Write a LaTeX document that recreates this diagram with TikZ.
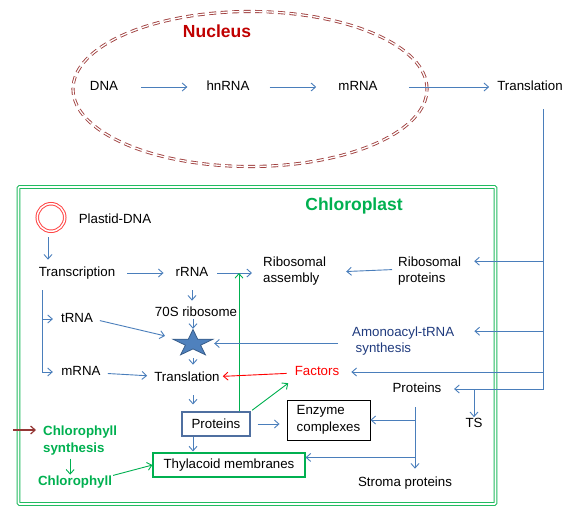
\documentclass[tikz,border=0pt]{standalone}
\usepackage{fontspec}
\setmainfont{Liberation Sans}
\usetikzlibrary{arrows.meta,shapes.geometric,calc}
\definecolor{lb}{HTML}{4A7EBB}
\definecolor{gr}{HTML}{00B050}
\definecolor{boxgr}{HTML}{22BB60}
\definecolor{nucred}{HTML}{C00000}
\definecolor{brn}{HTML}{A0403F}
\definecolor{navy}{HTML}{1F3A7D}
\definecolor{starfill}{HTML}{4F81BD}
\definecolor{starline}{HTML}{385D8A}
\definecolor{boxblue}{HTML}{4F6FA0}
\definecolor{brarrow}{HTML}{953735}
\definecolor{pred}{HTML}{FF4545}
\newcommand\fsz{\fontsize{13.3}{16.5}\selectfont}
\newcommand\fbig{\fontsize{17.5}{21}\selectfont\bfseries}
\tikzset{
 txt/.style={inner sep=0pt, text height=9.5pt, text depth=2.8pt, font=\fsz},
 mtxt/.style={inner sep=0pt, align=left, font=\fsz},
 tip/.style={-{Straight Barb[length=4.5pt,width=8pt]}},
 ln/.style={draw=lb, line width=0.9pt},
 arr/.style={ln, tip},
 garr/.style={draw=gr, line width=0.9pt, tip},
 rarr/.style={draw=red, line width=0.9pt, tip},
 brarr/.style={draw=brarrow, line width=1.2pt, tip},
}
\begin{document}
\begin{tikzpicture}[x=1pt,y=-1pt]
\useasboundingbox (0,0) rectangle (583,522);
% nucleus
\node[ellipse, draw=brn, line width=0.9pt, double=white, double distance=1.3pt, dash pattern=on 7pt off 4.5pt, minimum width=354pt, minimum height=155pt, inner sep=0pt] (nucleus) at (250,89) {};
\node[font=\fbig, text=nucred, inner sep=0pt] (nuctitle) at (217,31) {Nucleus};
\node[txt] (dna) at (104,87) {DNA};
\node[txt] (hnrna) at (228,87) {hnRNA};
\node[txt] (mrnaN) at (358,87) {mRNA};
\node[txt] (transN) at (530,87) {Translation};
% chloroplast
\node[draw=boxgr, line width=1.1pt, double=white, double distance=1.6pt, rounded corners=1pt, minimum width=477pt, minimum height=317pt, inner sep=0pt] (chlbox) at (257,345.5) {};
\node[font=\fbig, text=gr, inner sep=0pt] (chltitle) at (354,206) {Chloroplast};
\node[circle, draw=pred, line width=1pt, double=white, double distance=1.5pt, minimum size=27.5pt, inner sep=0pt] (pcirc) at (51,217.5) {};
\node[txt] (pdna) at (115,220) {Plastid-DNA};
\node[txt] (transc) at (77,273) {Transcription};
\node[txt] (rrna) at (192,273) {rRNA};
\node[mtxt, anchor=north west] (ribasm) at (263,256.2) {Ribosomal\\assembly};
\node[mtxt, anchor=north west] (ribprot) at (398,256.2) {Ribosomal\\proteins};
\node[txt] (s70) at (196,313) {70S ribosome};
\node[txt] (trna) at (77,319) {tRNA};
\node[mtxt, anchor=north west, text=navy] (amino) at (352,326.2) {Amonoacyl-tRNA\\\hspace*{3.5pt}synthesis};
\node[inner sep=0pt, minimum width=42pt, minimum height=26pt] (star) at (193,343.5) {};
\filldraw[fill=starfill, draw=starline, line width=0.8pt, shift={(star.center)}] (0,-14) -- (-4.7,-4.3) -- (-20,-4.3) -- (-7.6,1.7) -- (-12.4,11.3) -- (0,5.4) -- (12.4,11.3) -- (7.6,1.7) -- (20,-4.3) -- (4.7,-4.3) -- cycle;
\node[txt] (mrnaC) at (81,372) {mRNA};
\node[txt] (transC) at (187,378) {Translation};
\node[txt, text=red] (factors) at (317,372) {Factors};
\node[txt] (protR) at (417,389) {Proteins};
\node[txt] (ts) at (474,424) {TS};
\node[draw=boxblue, line width=1.1pt, minimum width=68pt, minimum height=24pt, inner sep=0pt, font=\fsz] (protbox) at (216,424) {Proteins};
\node[draw=black, line width=0.9pt, minimum width=83pt, minimum height=40pt, inner sep=0pt, align=left, font=\fsz] (enzyme) at (328.5,420) {Enzyme\\complexes};
\node[draw=gr, line width=1.1pt, minimum width=152pt, minimum height=24pt, inner sep=0pt, font=\fsz] (thyl) at (229,465) {Thylacoid membranes};
\node[txt] (stroma) at (405,483) {Stroma proteins};
\node[mtxt, anchor=north west, text=gr, font=\fsz\bfseries] (chlsyn) at (43,425.7) {Chlorophyll\\synthesis};
\node[txt, text=gr, font=\fsz\bfseries] (chl) at (75,482) {Chlorophyll};
% nucleus arrows
\draw[arr, shorten <=23pt, shorten >=19pt] (dna) -- (hnrna);
\draw[arr, shorten <=20pt, shorten >=22pt] (hnrna) -- (mrnaN);
\draw[arr, shorten <=31pt, shorten >=8pt] (mrnaN) -- (transN);
% right trunk
\coordinate (rt) at ([xshift=13pt,yshift=-16pt]transN.south);
\draw[arr, shorten >=12.5pt] (rt) |- (protR.east);
\coordinate (rp) at ([yshift=-5pt]ribprot.north east);
\draw[arr, shorten >=13pt] (rt |- rp) -- (rp);
\coordinate (am) at ([yshift=-5pt]amino.north east);
\draw[arr, shorten >=20pt] (rt |- am) -- (am);
\draw[arr, shorten >=12pt] (rt |- factors.east) -- (factors.east);
\draw[arr, shorten >=0.5pt] (protR.east -| ts.north) -- (ts.north);
% chloroplast internal
\coordinate (pc) at ([xshift=-3pt]pcirc.south);
\draw[arr, shorten <=5.5pt, shorten >=7pt] (pc) -- (pc |- transc.north);
\draw[arr, shorten <=12pt, shorten >=12pt] (transc) -- (rrna);
\draw[arr, shorten <=9pt, shorten >=11pt] (rrna.east) -- (rrna.east -| ribasm.west);
\coordinate (g1) at ([xshift=23pt]protbox.north);
\draw[garr] (g1) -- (g1 |- rrna.east);
\draw[arr, shorten <=6pt, shorten >=20pt] ([yshift=1.5pt]ribprot.west) -- ([yshift=-1.5pt]ribasm.east);
\draw[arr, shorten <=11pt, shorten >=6pt] (rrna.south) -- (rrna.south |- s70.north);
\coordinate (s7) at ([xshift=-3pt]s70.south);
\draw[arr, shorten >=1.5pt] (s7) -- (s7 |- star.north);
\draw[arr, shorten <=7pt, shorten >=7pt] (trna.east) -- ([yshift=6pt]star.west);
\draw[arr, shorten <=14pt] (amino.west |- star.east) -- (star.east);
\draw[arr, shorten <=1.5pt, shorten >=7pt] (star.south) -- (star.south |- transC.north);
\coordinate (lt) at ([xshift=3.5pt,yshift=-11pt]transc.south west);
\draw[arr, shorten >=8pt] (lt) |- (trna.west);
\draw[arr, shorten >=8.4pt] (lt) |- (mrnaC.west);
\draw[arr, shorten <=7pt, shorten >=7pt] (mrnaC) -- (transC);
\draw[rarr, shorten <=8pt, shorten >=3pt] (factors) -- (transC);
\coordinate (tc) at ([xshift=6pt]transC.south);
\draw[arr, shorten <=11pt, shorten >=7pt] (tc) -- (tc |- protbox.north);
\draw[garr, shorten <=2pt, shorten >=8pt] (protbox.north east) -- (factors.south west);
\draw[arr, shorten <=7pt, shorten >=7pt] (protbox.east) -- (protbox.east -| enzyme.west);
\coordinate (pb) at ([xshift=-23pt]protbox.south);
\draw[arr, shorten >=1pt] (pb) -- (pb |- thyl.north);
\coordinate (pt) at ([xshift=-2pt,yshift=-12pt]protR.south);
\draw[arr, shorten >=8pt] (pt) -- (pt |- stroma.north);
\draw[arr] (pt |- enzyme.east) -- (enzyme.east);
\coordinate (te) at ([yshift=-5pt]thyl.north east);
\draw[arr] (pt |- te) -- (te);
\coordinate (cs) at ([xshift=-10pt]chlsyn.south);
\draw[garr, shorten <=3.5pt, shorten >=1pt] (cs) -- (cs |- chl.north);
\draw[garr, shorten <=1pt] (chl.north east) -- (thyl.west);
\coordinate (cb) at ([yshift=-4.3pt]chlsyn.north west);
\draw[brarr, shorten >=7pt] ([xshift=-30pt]cb) -- (cb);
\end{tikzpicture}
\end{document}
